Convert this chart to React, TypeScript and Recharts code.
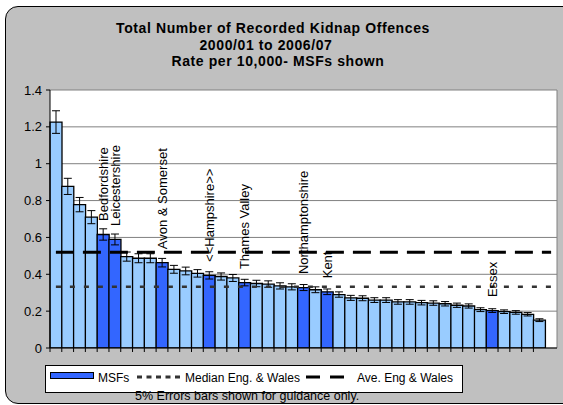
import React from 'react';
import {
  ComposedChart,
  Bar,
  Line,
  XAxis,
  YAxis,
  CartesianGrid,
  ErrorBar,
  Cell,
  LabelList,
} from 'recharts';

// ---- data ----
const forceIds: string[] = [
  'F01', 'F02', 'F03', 'F04', 'F05', 'F06', 'F07', 'F08', 'F09', 'F10',
  'F11', 'F12', 'F13', 'F14', 'F15', 'F16', 'F17', 'F18', 'F19', 'F20',
  'F21', 'F22', 'F23', 'F24', 'F25', 'F26', 'F27', 'F28', 'F29', 'F30',
  'F31', 'F32', 'F33', 'F34', 'F35', 'F36', 'F37', 'F38', 'F39', 'F40',
  'F41', 'F42', 'F43',
];

const forceLabels: string[] = [
  '', '', '', '', 'Bedfordshire', 'Leicestershire', '', '', '', 'Avon & Somerset',
  '', '', '', '<<Hampshire>>', '', '', 'Thames Valley', '', '', '',
  '', 'Northamptonshire', '', 'Kent', '', '', '', '', '', '',
  '', '', '', '', '', '', '', 'Essex', '', '',
  '', '', '',
];

const isMSF: boolean[] = [
  false, false, false, false, true, true, false, false, false, true,
  false, false, false, true, false, false, true, false, false, false,
  false, true, false, true, false, false, false, false, false, false,
  false, false, false, false, false, false, false, true, false, false,
  false, false, false,
];

const rates: number[] = [
  1.226, 0.877, 0.778, 0.71, 0.616, 0.589, 0.496, 0.487, 0.487, 0.463,
  0.427, 0.418, 0.405, 0.394, 0.388, 0.38, 0.355, 0.35, 0.347, 0.337,
  0.332, 0.328, 0.316, 0.305, 0.29, 0.272, 0.27, 0.26, 0.26, 0.25,
  0.25, 0.246, 0.244, 0.24, 0.232, 0.228, 0.208, 0.203, 0.197, 0.193,
  0.183, 0.151, 0,
];

const medianEngWales = 0.333;
const averageEngWales = 0.52;
const errorFraction = 0.05; // "5% Errors bars shown for guidance only."

const yTicks: number[] = [0, 0.2, 0.4, 0.6, 0.8, 1, 1.2, 1.4];

const titleLines: string[] = [
  'Total Number of Recorded Kidnap Offences',
  '2000/01 to 2006/07',
  'Rate per 10,000- MSFs shown',
];

// ---- derived table ----
const data = forceIds.map((id, i) => ({
  id,
  label: forceLabels[i],
  msf: isMSF[i],
  rate: rates[i],
  err: rates[i] * errorFraction,
  median: medianEngWales,
  average: averageEngWales,
}));

const FONT = '"Liberation Sans", Arial, sans-serif';
const LIGHT = '#99CCFF';
const DARK = '#3366FF';

const renderForceLabel = (props: any) => {
  const { x, y, width, value } = props;
  if (!value) return null;
  const cx = Number(x) + Number(width) / 2;
  const sy = Number(y) - 13.5;
  return (
    <text
      x={0}
      y={0}
      dy="0.36em"
      transform={`translate(${cx},${sy}) rotate(-90)`}
      fontSize={13}
      fontFamily={FONT}
      fill="#000"
      textAnchor="start"
    >
      {value}
    </text>
  );
};

// tick marks on category boundaries, drawn from each category's background slot
const renderBoundaryTicks = (props: any) => {
  const { x, y, width, height, index } = props;
  const left = Number(x);
  const right = Number(x) + Number(width);
  const bottom = Number(y) + Number(height);
  const isLast = index === data.length - 1;
  return (
    <g key={`bt-${index}`}>
      <line x1={left} y1={bottom} x2={left} y2={bottom + 4} stroke="#000" strokeWidth={1} />
      {isLast ? (
        <line x1={right} y1={bottom} x2={right} y2={bottom + 4} stroke="#000" strokeWidth={1} />
      ) : null}
    </g>
  );
};

export default function App() {
  return (
    <div
      style={{
        position: 'absolute',
        left: 0,
        top: 0,
        width: 563,
        height: 405,
        overflow: 'hidden',
        background: '#fff',
      }}
    >
      <div
        style={{
          position: 'absolute',
          left: 5,
          top: 6,
          width: 600,
          height: 398,
          boxSizing: 'border-box',
          border: '1.5px solid #000',
          borderRadius: 13,
          background: '#c0c0c0',
        }}
      />
      <div style={{ position: 'absolute', left: 0, top: 0 }}>
        <ComposedChart
          width={563}
          height={405}
          data={data}
          margin={{ top: 90, right: 6, left: 10, bottom: 47 }}
          barCategoryGap={0}
          barGap={0}
        >
          <CartesianGrid
            stroke="#808080"
            fill="#ffffff"
            fillOpacity={1}
            verticalCoordinatesGenerator={(p: any) => [p.offset.left + p.offset.width]}
          />
          <XAxis
            dataKey="id"
            height={10}
            interval={0}
            tick={false}
            tickLine={false}
            axisLine={{ stroke: '#000' }}
          />
          <YAxis
            width={40}
            domain={[0, 1.4]}
            ticks={yTicks}
            interval={0}
            allowDataOverflow
            tickSize={4}
            tickMargin={4}
            tickLine={{ stroke: '#000' }}
            axisLine={{ stroke: '#000' }}
            tick={{ fontSize: 13, fontFamily: FONT, fill: '#000' }}
          />
          <Bar
            dataKey="rate"
            isAnimationActive={false}
            stroke="#000"
            strokeWidth={1.3}
            background={renderBoundaryTicks}
          >
            {data.map((d) => (
              <Cell key={d.id} fill={d.msf ? DARK : LIGHT} />
            ))}
            <ErrorBar
              dataKey="err"
              direction="y"
              width={4}
              stroke="#000"
              strokeWidth={1}
            />
            <LabelList dataKey="label" content={renderForceLabel} />
          </Bar>
          <Line
            dataKey="median"
            isAnimationActive={false}
            stroke="#333333"
            strokeWidth={2.5}
            strokeDasharray="5 9"
            dot={false}
            activeDot={false}
          />
          <Line
            dataKey="average"
            isAnimationActive={false}
            stroke="#000"
            strokeWidth={3}
            strokeDasharray="18 9"
            dot={false}
            activeDot={false}
          />
        </ComposedChart>
      </div>
      <svg
        width={563}
        height={405}
        style={{ position: 'absolute', left: 0, top: 0, pointerEvents: 'none' }}
      >
        <g fontFamily={FONT} fontWeight="bold" fontSize={14} letterSpacing={0.6} fill="#000">
          <text x={273} y={33} textAnchor="middle">{titleLines[0]}</text>
          <text x={266} y={49.5} textAnchor="middle">{titleLines[1]}</text>
          <text x={278} y={65.5} textAnchor="middle">{titleLines[2]}</text>
        </g>
        <rect x={45.5} y={365.5} width={417} height={27} fill="#ffffff" stroke="#000" strokeWidth={1} />
        <rect x={50.5} y={372.5} width={43} height={6} fill={DARK} stroke="#000" strokeWidth={1} />
        <line x1={137} y1={377} x2={183} y2={377} stroke="#333333" strokeWidth={3} strokeDasharray="5 4.5" />
        <line x1={306} y1={377} x2={345} y2={377} stroke="#000" strokeWidth={3} strokeDasharray="14 10" />
        <g fontFamily={FONT} fontSize={12} fill="#000">
          <text x={98} y={381.5}>MSFs</text>
          <text x={185} y={381.5}>Median Eng. &amp; Wales</text>
          <text x={357} y={381.5}>Ave. Eng &amp; Wales</text>
        </g>
        <text x={135} y={400} fontFamily={FONT} fontSize={12.5} fill="#000">
          5% Errors bars shown for guidance only.
        </text>
      </svg>
    </div>
  );
}
